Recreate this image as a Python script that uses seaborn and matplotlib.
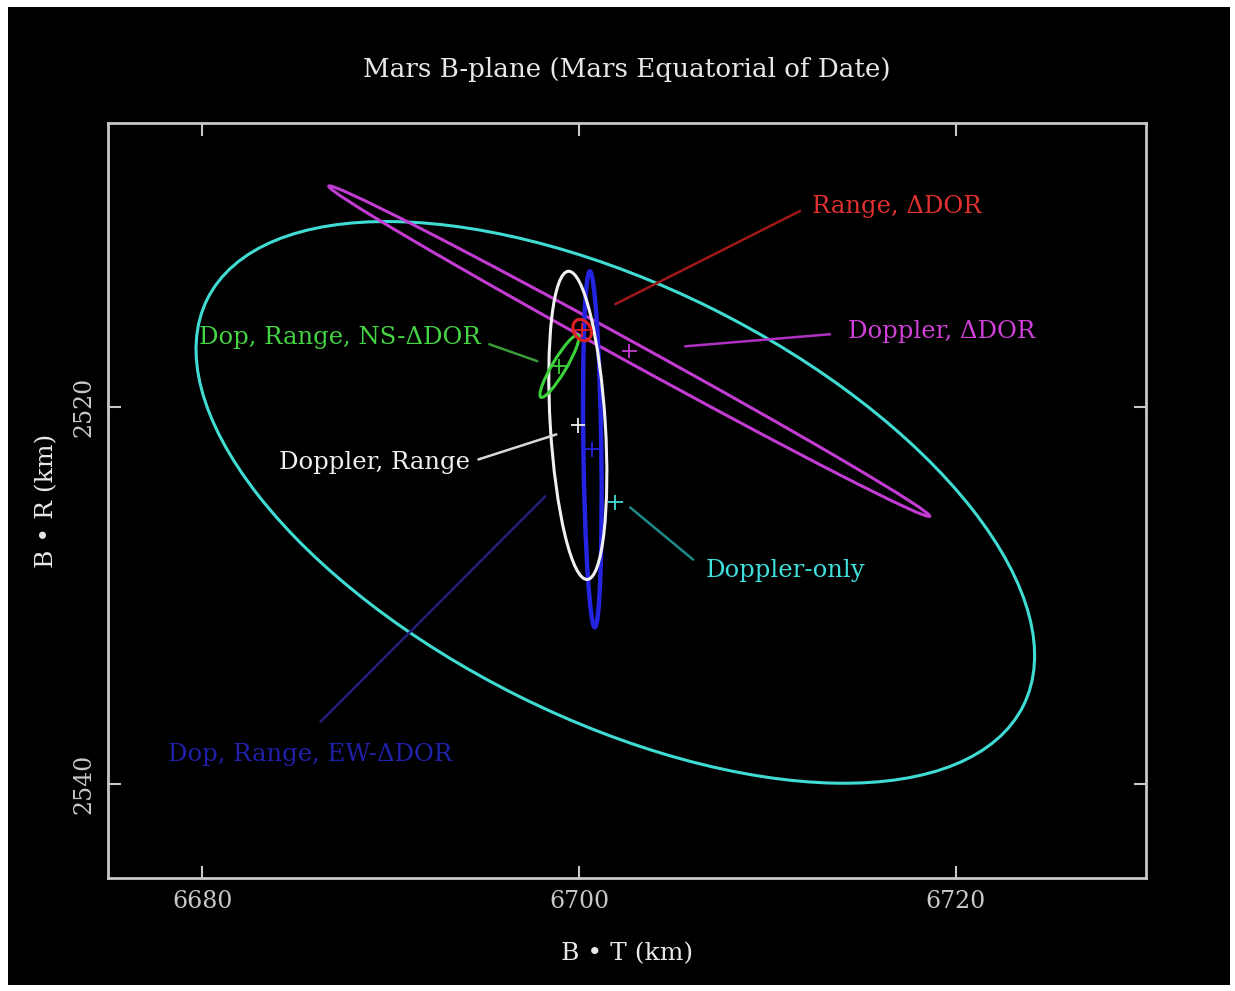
import seaborn as sns
import matplotlib.pyplot as plt
import pandas as pd
import numpy as np
from matplotlib.patches import Ellipse, Rectangle

# B-plane error ellipses (km), one entry per tracking data combination
solutions = ['Doppler-only', 'Doppler, ΔDOR', 'Dop, Range, EW-ΔDOR',
             'Doppler, Range', 'Dop, Range, NS-ΔDOR', 'Range, ΔDOR']
center_bt = [6701.93, 6702.67, 6700.71, 6699.94, 6698.96, 6700.17]
center_br = [2525.05, 2517.02, 2522.23, 2520.96, 2517.82, 2515.90]
major_axis = [48.4, 36.4, 18.9, 16.4, 3.83, 1.2]
minor_axis = [23.0, 1.06, 0.95, 2.92, 0.74, 0.9]
orientation = [26.5, 28.8, 89.2, 86.5, -59.2, 60.0]

x_ticks = [6680, 6700, 6720]
y_ticks = [2520, 2540]

ellipse_colors = ['#3fdcd4', '#c23cd2', '#2424e0', '#f0f0f0', '#3cd23c', '#e02020']
text_colors = ['#40e0dc', '#d040d8', '#2020aa', '#f0f0f0', '#44d444', '#e03030']
leader_colors = ['#1f8a8a', '#b030c4', '#20207a', '#d8d8d8', '#3a9a3a', '#a01818']

# leader line (start, end) and label anchor
leaders = {
    'Doppler-only': ((6702.72, 2525.32), (6706.06, 2528.09), (6706.7, 2528.67), 'left'),
    'Doppler, ΔDOR': ((6705.64, 2516.76), (6713.33, 2516.12), (6714.29, 2515.96), 'left'),
    'Dop, Range, EW-ΔDOR': ((6698.21, 2524.73), (6686.28, 2536.70), (6678.21, 2538.46), 'left'),
    'Doppler, Range': ((6698.80, 2521.44), (6694.66, 2522.77), (6694.24, 2522.93), 'right'),
    'Dop, Range, NS-ΔDOR': ((6697.79, 2517.55), (6695.24, 2516.65), (6694.78, 2516.28), 'right'),
    'Range, ΔDOR': ((6701.93, 2514.52), (6711.74, 2509.57), (6712.38, 2509.31), 'left'),
}

df = pd.DataFrame({'solution': solutions, 'bt': center_bt, 'br': center_br,
                   'major': major_axis, 'minor': minor_axis, 'angle': orientation})

sns.set_theme(style='dark', rc={'axes.facecolor': 'black', 'figure.facecolor': 'white',
                                'axes.edgecolor': '#c8c8c8', 'text.color': '#e8e8e8',
                                'xtick.color': '#c8c8c8', 'ytick.color': '#c8c8c8',
                                'axes.labelcolor': '#e8e8e8'})
plt.rcParams['font.family'] = ['DejaVu Serif', 'DejaVu Sans']

fig = plt.figure(figsize=(12.35, 9.91), dpi=100)
fig.add_artist(Rectangle((8 / 1235, 6 / 991), 1222 / 1235, 978 / 991,
                         transform=fig.transFigure, facecolor='black',
                         edgecolor='none', zorder=-1))
ax = fig.add_axes([108 / 1235, 113 / 991, 1038 / 1235, 755 / 991])

for i, row in df.iterrows():
    lw = 3.2 if i == 2 else 2.2
    ax.add_patch(Ellipse((row['bt'], row['br']), row['major'], row['minor'],
                         angle=row['angle'], fill=False, edgecolor=ellipse_colors[i],
                         linewidth=lw, zorder=2 + i))

sns.scatterplot(data=df, x='bt', y='br', hue='solution', palette=ellipse_colors,
                marker='+', s=110, linewidth=1.3, legend=False, ax=ax, zorder=10)

for i, name in enumerate(solutions):
    (x1, y1), (x2, y2), (tx, ty), ha = leaders[name]
    ax.plot([x1, x2], [y1, y2], color=leader_colors[i], lw=1.8, zorder=9)
    ax.text(tx, ty, name, color=text_colors[i], fontsize=17.5, ha=ha, va='center', zorder=11)

ax.set_xlim(6675.0, 6730.1)
ax.set_ylim(2545.0, 2504.9)
ax.set_xticks(x_ticks)
ax.set_yticks(y_ticks)
ax.tick_params(direction='in', length=9, width=1.5, top=True, right=True,
               bottom=True, left=True, labelsize=17, pad=9)
ax.tick_params(axis='y', labelrotation=90)
for lab in ax.get_yticklabels():
    lab.set_va('center')
for sp in ax.spines.values():
    sp.set_linewidth(2)
    sp.set_color('#c8c8c8')

ax.set_title('Mars B-plane (Mars Equatorial of Date)', fontsize=18.8, color='#e8e8e8', pad=33)
ax.set_xlabel('B • T (km)', fontsize=18)
ax.set_ylabel('B • R (km)', fontsize=18)
ax.xaxis.set_label_coords(0.5, -0.085)
ax.yaxis.set_label_coords(-0.048, 0.5)
ax.grid(False)

fig.savefig('out.png', dpi=100, facecolor=fig.get_facecolor())
